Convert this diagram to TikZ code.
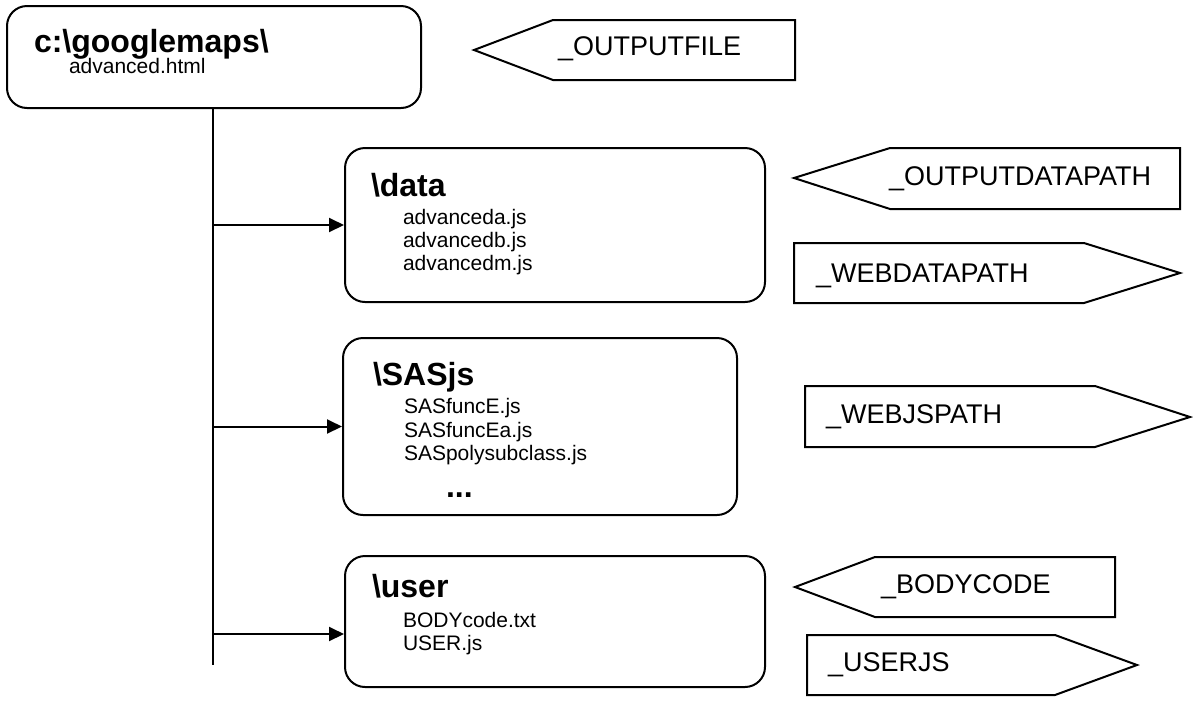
\documentclass[tikz,border=0pt]{standalone}
\usepackage{fontspec}
\setmainfont{Liberation Sans}
\usepackage{tikz}
\usetikzlibrary{arrows.meta, fit}
\newcommand{\dirname}[1]{\fontsize{16}{19}\selectfont\bfseries #1}
\newcommand{\fname}[1]{\fontsize{10.5}{12}\selectfont #1}

\begin{document}
\begin{tikzpicture}[x=0.5pt, y=-0.5pt, line width=1pt,
  folder/.style = {draw, rounded corners=10pt, inner sep=0pt},
  txt/.style = {anchor=base west, inner sep=0pt},
  tag/.style = {draw, line join=miter},
  tagtext/.style = {anchor=base west, inner sep=0pt, font=\fontsize{13.5}{16}\selectfont},
  branch/.style = {-{Triangle[length=7.5pt, width=7pt]}}]
\useasboundingbox (0,0) rectangle (1193,713);
% folders
\node[folder, fit={(7,6) (421,108)}] (root) {};
\node[folder, fit={(345,148) (765,302)}] (data) {};
\node[folder, fit={(343,338) (737,515)}] (sasjs) {};
\node[folder, fit={(345,556) (765,687)}] (user) {};
\node[txt] (rootname) at (33,52) {\dirname{c:\textbackslash googlemaps\textbackslash}};
\node[txt] (html) at (68,73) {\fname{advanced.html}};
\node[txt] (dataname) at (370,196) {\dirname{\textbackslash data}};
\node[txt] (da) at (402,224) {\fname{advanceda.js}};
\node[txt] (db) at (402,247) {\fname{advancedb.js}};
\node[txt] (dm) at (402,270) {\fname{advancedm.js}};
\node[txt] (sasname) at (372,385) {\dirname{\textbackslash SASjs}};
\node[txt] (fe) at (403,413) {\fname{SASfuncE.js}};
\node[txt] (fea) at (403,437) {\fname{SASfuncEa.js}};
\node[txt] (poly) at (403,460) {\fname{SASpolysubclass.js}};
\node[txt] (more) at (445,497) {\dirname{...}};
\node[txt] (username) at (371,597) {\dirname{\textbackslash user}};
\node[txt] (body) at (402,627) {\fname{BODYcode.txt}};
\node[txt] (userjs) at (402,650) {\fname{USER.js}};
% tree
\coordinate (trunkend) at (213,665);
\coordinate (userin) at (user.west |- 0,634);
\draw (root.south -| trunkend) -- (trunkend);
\draw[branch] (trunkend |- data.west) -- (data.west);
\draw[branch] (trunkend |- sasjs.west) -- (sasjs.west);
\draw[branch] (trunkend |- userin) -- (userin);
% macro variables
\draw[tag] (553,20) -- (795,20) -- (795,80) -- (553,80) -- (474,50) -- cycle;
\node[tagtext] (outfile) at (557,55) {\_OUTPUTFILE};
\draw[tag] (890,148) -- (1180,148) -- (1180,209) -- (890,209) -- (794,178) -- cycle;
\node[tagtext] (outdata) at (888,185) {\_OUTPUTDATAPATH};
\draw[tag] (794,243) -- (1084,243) -- (1180,273) -- (1084,303) -- (794,303) -- cycle;
\node[tagtext] (webdata) at (815,282) {\_WEBDATAPATH};
\draw[tag] (805,386) -- (1095,386) -- (1190,417) -- (1095,447) -- (805,447) -- cycle;
\node[tagtext] (webjs) at (825,423) {\_WEBJSPATH};
\draw[tag] (875,557) -- (1115,557) -- (1115,617) -- (875,617) -- (795,587) -- cycle;
\node[tagtext] (bodycode) at (880,593) {\_BODYCODE};
\draw[tag] (807,635) -- (1055,635) -- (1137,665) -- (1055,695) -- (807,695) -- cycle;
\node[tagtext] (userjstag) at (827,671) {\_USERJS};
\end{tikzpicture}
\end{document}
